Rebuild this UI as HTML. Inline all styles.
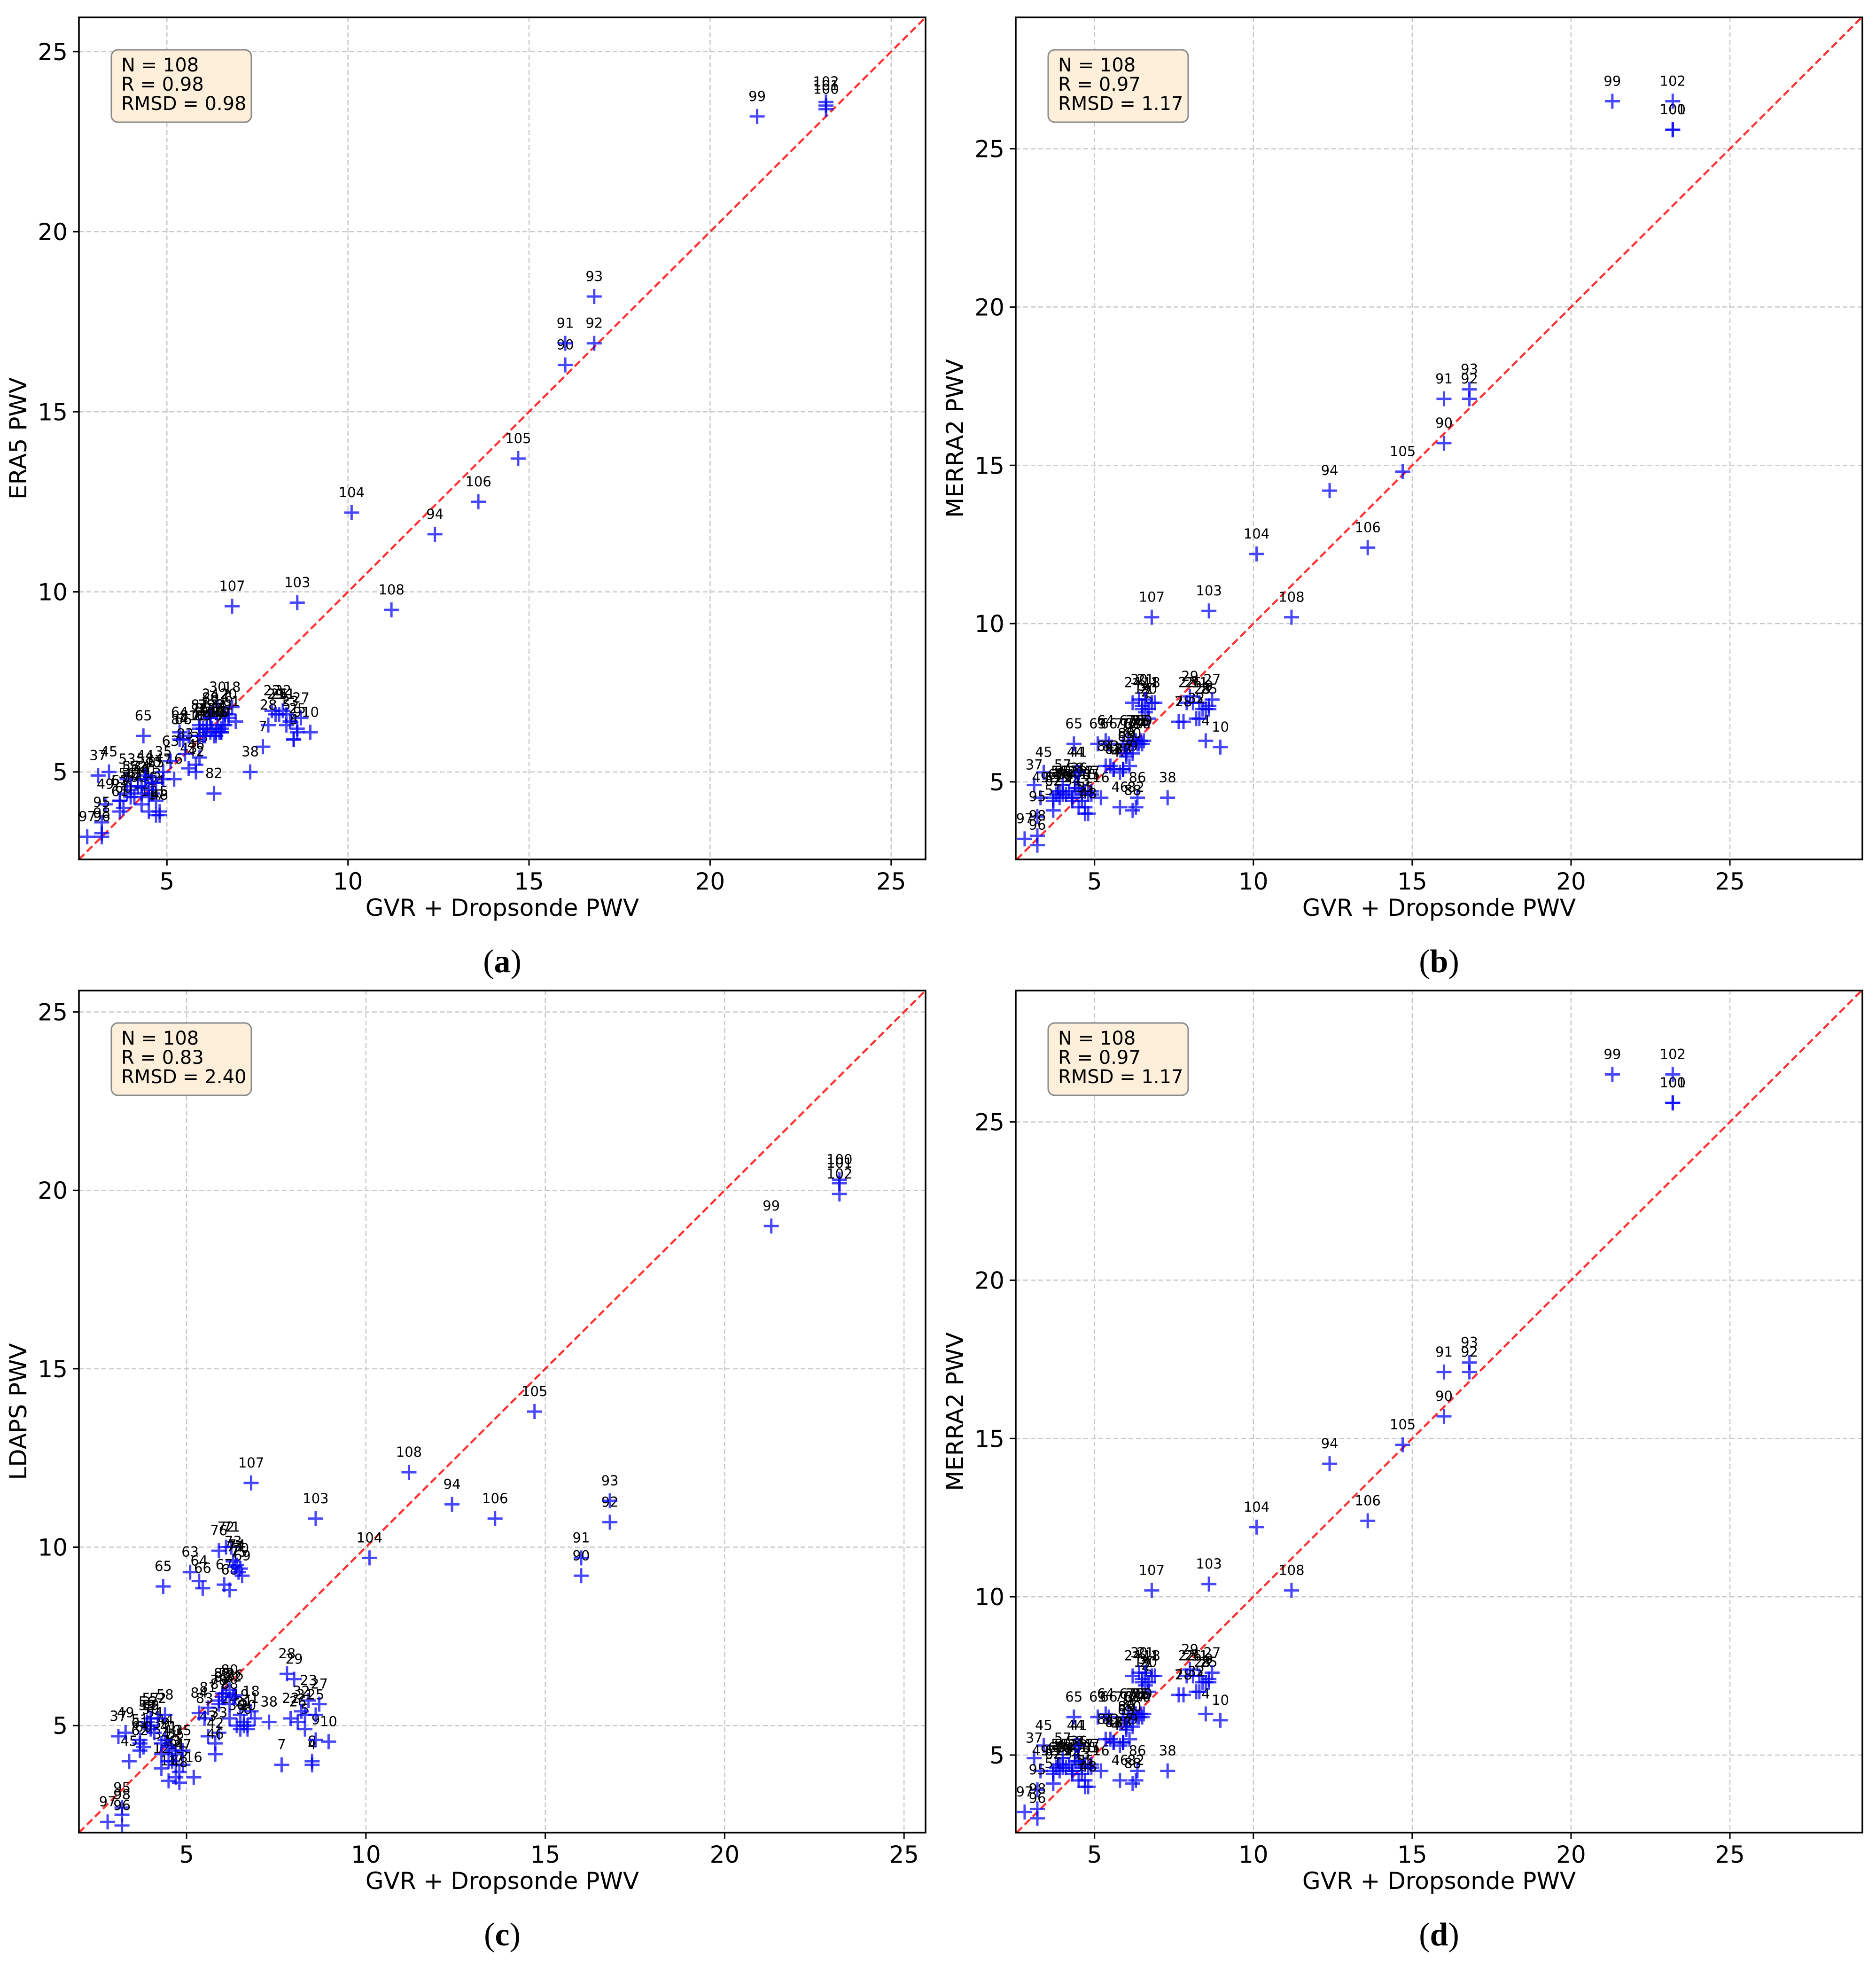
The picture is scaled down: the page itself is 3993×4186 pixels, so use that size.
<!DOCTYPE html>
<html><head><meta charset="utf-8"><style>
html,body{margin:0;padding:0;background:#fff}
svg{display:block}
text{font-family:"DejaVu Sans","Liberation Sans",sans-serif}
</style></head><body>
<svg id="fig" xmlns="http://www.w3.org/2000/svg" width="3993" height="4186" viewBox="0 0 3993 4186"></svg>
<script>
// Point ids 1..108
const ids = Array.from({length:108},(_,i)=>i+1);
// GVR + Dropsonde PWV (x values)
const gvrX = [6.9,6.6,6.5,8.5,8.3,6.7,7.65,8.5,8.6,8.96,4.5,4.3,4.6,4.7,4.8,5.2,4.7,6.8,6.5,6.7,
6.6,7.9,8.4,6.2,8.6,8.1,8.7,7.8,8.0,6.4,8.3,8.2,5.9,4.3,4.9,4.5,3.1,7.3,4.3,4.6,
4.5,5.8,5.6,4.4,3.4,5.8,4.9,4.8,3.3,4.0,3.7,4.2,3.9,4.1,4.7,3.9,4.0,4.4,4.0,3.8,
3.7,3.7,5.1,5.35,4.35,5.45,6.05,6.2,6.55,6.5,6.25,6.1,6.3,6.4,6.45,5.9,6.35,5.9,6.1,6.2,
5.6,6.3,5.5,5.35,6.0,6.35,5.9,6.2,6.0,16.0,16.0,16.8,16.8,12.4,3.2,3.2,2.8,3.2,21.3,23.2,
23.2,23.2,8.6,10.1,14.7,13.6,6.8,11.2];
// ERA5 PWV
const era5Y = [6.4,6.6,6.2,5.9,6.3,6.5,5.7,5.9,6.1,6.1,3.9,4.1,4.4,4.2,3.9,4.8,3.8,6.8,6.1,6.6,
6.3,6.7,6.4,6.6,6.2,6.6,6.5,6.3,6.6,6.8,6.6,6.7,5.4,4.6,5.0,4.3,4.9,5.0,4.4,4.7,
4.5,5.0,5.1,4.9,5.0,5.2,4.8,3.8,4.1,4.5,4.2,4.6,4.8,4.3,4.7,4.4,4.6,4.8,4.3,4.0,
3.9,4.2,5.3,6.1,6.0,5.9,6.0,6.1,6.3,6.1,6.2,6.2,6.0,6.3,6.1,6.2,6.0,6.0,6.3,6.5,
6.0,4.4,5.5,5.9,6.2,6.1,6.3,6.5,6.0,16.3,16.9,16.9,18.2,11.6,3.6,3.2,3.2,3.3,23.2,23.4,
23.5,23.6,9.7,12.2,13.7,12.5,9.6,9.5];
// MERRA2 PWV
const merra2Y = [7.5,7.2,7.4,6.3,7.0,7.0,6.9,7.3,7.4,6.1,4.2,4.5,4.4,4.0,4.6,4.5,4.7,7.5,7.3,7.3,
7.6,7.5,7.3,7.5,7.3,7.5,7.6,6.9,7.7,7.6,7.5,7.0,5.4,4.4,4.6,4.8,4.9,4.5,4.5,4.6,
5.3,5.3,5.4,5.3,5.3,4.2,4.7,4.0,4.5,4.6,4.1,4.7,4.5,4.6,4.2,4.7,4.9,4.8,4.7,4.6,
4.5,4.4,6.2,6.3,6.2,6.2,6.3,6.2,6.3,6.2,6.3,6.2,6.3,6.2,6.3,6.2,6.2,5.4,5.5,5.9,
5.4,4.2,5.5,5.5,5.8,4.5,5.4,4.1,5.9,15.7,17.1,17.1,17.4,14.2,3.9,3.0,3.2,3.3,26.5,25.6,
25.6,26.5,10.4,12.2,14.8,12.4,10.2,10.2];
// LDAPS PWV
const ldapsY = [5.2,5.0,4.9,3.9,4.9,4.9,3.9,4.0,4.6,4.55,3.45,3.8,4.0,3.9,3.7,3.55,3.55,5.4,5.3,5.0,
5.1,5.2,5.7,5.2,5.3,5.1,5.6,6.45,6.3,5.0,5.3,5.4,4.8,4.2,4.3,4.0,4.7,5.1,4.5,4.3,
4.4,4.5,4.7,4.6,4.0,4.2,3.9,3.4,4.8,4.9,4.6,5.2,5.0,4.8,4.2,5.1,5.2,5.3,5.0,4.4,
4.5,4.3,9.3,9.05,8.9,8.85,8.95,8.8,9.2,9.4,10.0,10.0,9.6,9.5,9.3,9.9,9.45,5.7,5.9,6.0,
5.5,5.8,5.2,5.35,5.9,5.85,5.6,5.6,5.8,9.2,9.7,10.7,11.3,11.2,2.7,2.2,2.3,2.5,19.0,20.3,
20.2,19.9,10.8,9.7,13.8,10.8,11.8,12.1];
const tickVals = [5,10,15,20,25];
const tickLabels = ["5","10","15","20","25"];
const statsA = ["N = 108","R = 0.98","RMSD = 0.98"];
const statsB = ["N = 108","R = 0.97","RMSD = 1.17"];
const statsC = ["N = 108","R = 0.83","RMSD = 2.40"];
const statsD = ["N = 108","R = 0.97","RMSD = 1.17"];

const NS="http://www.w3.org/2000/svg";
const svg=document.getElementById('fig');
function mk(tag,attrs,parent){const e=document.createElementNS(NS,tag);for(const k in attrs)e.setAttribute(k,attrs[k]);(parent||svg).appendChild(e);return e;}

function panel(key,L,T,R,B,xlim,ylim,yData,ylabel,stats,letter){
  const g=mk('g',{});
  
  
  const sx=v=>L+(v-xlim[0])*(R-L)/(xlim[1]-xlim[0]);
  const sy=v=>B-(v-ylim[0])*(B-T)/(ylim[1]-ylim[0]);
  tickVals.forEach((v,i)=>{
    const gx=mk('line',{x1:sx(v),x2:sx(v),y1:T,y2:B,stroke:'#c8c8c8','stroke-width':2.5,'stroke-dasharray':'10,6'},g);
    
    
    const gy=mk('line',{x1:L,x2:R,y1:sy(v),y2:sy(v),stroke:'#c8c8c8','stroke-width':2.5,'stroke-dasharray':'10,6'},g);
    
    
    const tx=mk('line',{x1:sx(v),x2:sx(v),y1:B,y2:B+13,stroke:'#000','stroke-width':3},g);
    
    
    const ty=mk('line',{x1:L-13,x2:L,y1:sy(v),y2:sy(v),stroke:'#000','stroke-width':3},g);
    
    
    const lx=mk('text',{x:sx(v),y:B+64,'font-size':50,'text-anchor':'middle',fill:'#000'},g);
    lx.textContent=tickLabels[i];
    
    
    const ly=mk('text',{x:L-24,y:sy(v)+18,'font-size':50,'text-anchor':'end',fill:'#000'},g);
    ly.textContent=tickLabels[i];
    
    
  });
  const lo=Math.max(xlim[0],ylim[0]), hi=Math.min(xlim[1],ylim[1]);
  const ref=mk('line',{x1:sx(lo),y1:sy(lo),x2:sx(hi),y2:sy(hi),stroke:'rgba(255,0,0,0.8)','stroke-width':4.5,'stroke-dasharray':'16,8'},g);
  
  
  gvrX.forEach((xv,i)=>{
    const px=sx(xv), py=sy(yData[i]);
    const p=mk('path',{d:`M${px-16},${py}H${px+16}M${px},${py-16}V${py+16}`,stroke:'rgba(0,0,255,0.72)','stroke-width':5,fill:'none'},g);
    
    
    const t=mk('text',{x:px,y:py-33,'font-size':29,'text-anchor':'middle',fill:'#000'},g);
    t.textContent=String(ids[i]);
    
    
  });
  const fr=mk('rect',{x:L,y:T,width:R-L,height:B-T,fill:'none',stroke:'#000','stroke-width':3.5},g);
  
  
  const bx=mk('rect',{x:L+69,y:T+69,width:298,height:154,rx:14,fill:'#fdefd9',stroke:'#8a8a8a','stroke-width':3},g);
  
  
  stats.forEach((s,i)=>{
    const t=mk('text',{x:L+90,y:T+115+i*41,'font-size':40,fill:'#000'},g);
    t.textContent=s;
    
    
  });
  const xl=mk('text',{x:(L+R)/2,y:B+120,'font-size':50,'text-anchor':'middle',fill:'#000'},g);
  xl.textContent='GVR + Dropsonde PWV';
  
  
  const cy=(T+B)/2;
  const yl=mk('text',{x:L-112,y:cy,'font-size':50,'text-anchor':'middle',fill:'#000',transform:`rotate(-90 ${L-112} ${cy})`},g);
  yl.textContent=ylabel;
  
  
  const cap=mk('text',{x:(L+R)/2,y:B+240,'font-size':70,'text-anchor':'middle',fill:'#000',style:'font-family:"Liberation Serif",serif'},g);
  cap.innerHTML='(<tspan font-weight="bold">'+letter+'</tspan>)';
  
  
}
panel('a',168,37,1970,1829,[2.57,25.95],[2.57,25.95],era5Y,'ERA5 PWV',statsA,'a');
panel('b',2162,37,3964,1829,[2.52,29.17],[2.55,29.15],merra2Y,'MERRA2 PWV',statsB,'b');
panel('c',168,2108,1970,3900,[2.0,25.6],[2.0,25.6],ldapsY,'LDAPS PWV',statsC,'c');
panel('d',2162,2108,3964,3900,[2.52,29.17],[2.55,29.15],merra2Y,'MERRA2 PWV',statsD,'d');
</script>
</body></html>
